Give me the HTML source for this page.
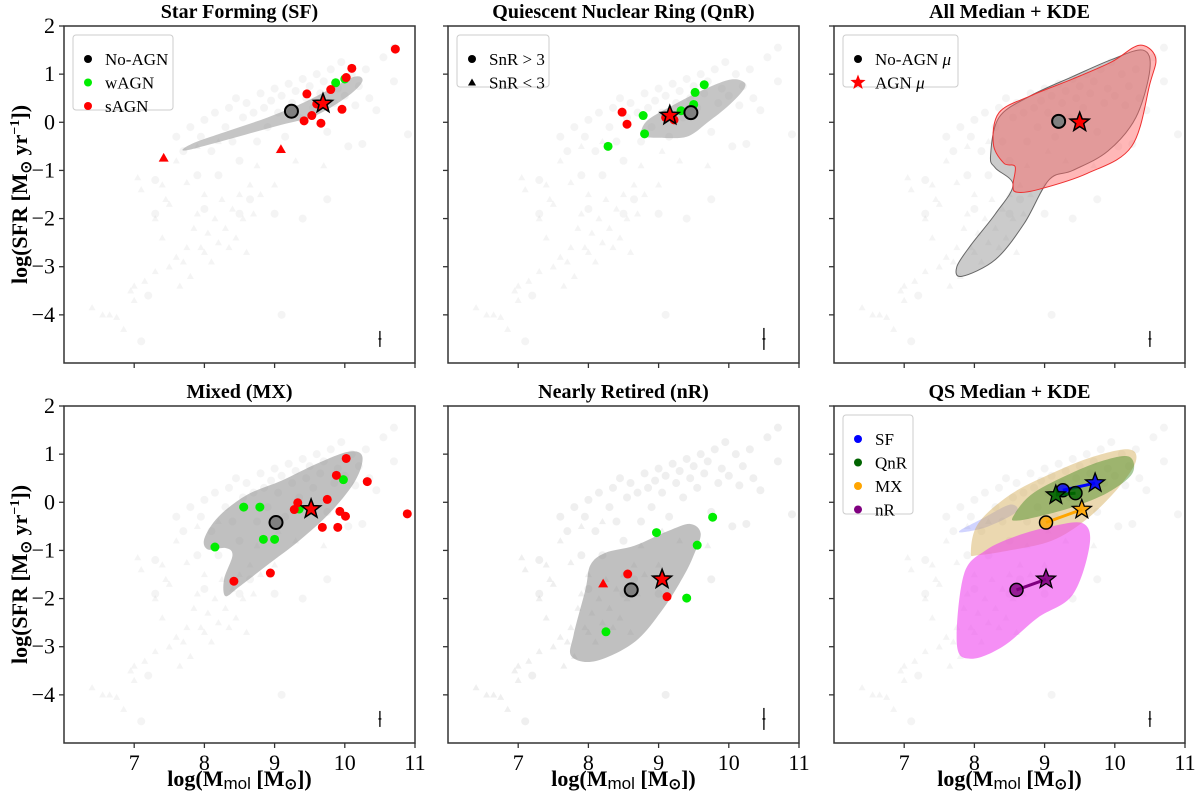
<!DOCTYPE html>
<html><head><meta charset="utf-8"><style>
html,body{margin:0;padding:0;background:#fff;}
svg{display:block;font-family:"Liberation Serif",serif;}
svg text{font-family:"Liberation Serif",serif;}
</style></head><body>
<svg id="fig" width="1200" height="800" viewBox="0 0 1200 800" xmlns="http://www.w3.org/2000/svg" font-family="Liberation Serif, serif"></svg>
<script>
// ---------- data ----------
const bgX=[6.4,6.55,6.65,6.75,6.85,6.95,7.0,7.0,7.05,7.1,7.15,7.3,7.3,7.4,7.45,7.5,7.5,7.6,7.65,7.7,7.75,7.8,7.85,7.9,7.95,8.0,8.0,8.05,8.1,8.15,8.2,8.25,8.3,8.35,8.4,8.45,8.5,8.55,8.6,8.65,8.7,8.75,8.8,9.0,9.05,9.3,7.6,7.9,8.2,9.7,7.4,7.75,
7.1,7.2,7.3,7.3,7.6,7.7,7.8,7.9,7.95,8.0,8.1,8.15,8.2,8.3,8.35,8.4,8.45,8.5,8.55,8.6,8.65,8.7,8.75,8.8,8.85,8.9,8.95,9.0,9.0,9.05,9.1,9.15,9.2,9.25,9.3,9.35,9.4,9.45,9.5,9.55,9.6,9.65,9.7,9.75,9.8,9.85,9.9,9.95,10.0,10.05,10.1,10.15,10.2,10.3,10.35,10.45,10.7,10.7,10.55,10.9,9.1,8.5,9.4,9.75,10.25,8.0];
const bgY=[-3.85,-4.0,-4.0,-4.05,-4.3,-3.5,-3.4,-3.7,-1.15,-1.4,-3.3,-3.1,-2.0,-2.4,-1.6,-1.7,-3.0,-2.8,-3.4,-2.9,-2.6,-3.2,-2.2,-1.9,-2.6,-2.7,-1.5,-2.3,-2.9,-2.0,-2.5,-1.6,-2.2,-2.6,-1.8,-2.4,-1.5,-2.0,-2.7,-1.3,-1.9,-0.9,-1.5,-1.3,-0.6,-0.8,-0.8,-0.5,-0.4,-0.9,-1.3,-1.25,
-4.55,-3.6,-1.2,-1.9,-0.3,-0.6,-0.1,-1.1,-0.3,0.05,-0.6,0.2,-1.1,-0.1,0.3,-0.4,0.5,-0.8,0.1,0.4,-1.6,0.2,-0.4,0.6,0.3,-0.1,0.45,0.7,-1.9,0.2,0.55,-0.3,0.8,0.4,0.65,0.1,0.9,0.5,0.75,0.3,1.0,0.6,0.85,-0.2,1.1,0.4,0.7,1.25,0.55,-0.5,1.0,0.35,0.75,1.1,0.5,0.25,1.55,0.85,1.35,-0.25,-4.0,-1.9,-2.0,-1.6,-0.45,-1.8];
const nTri=52;
const xTicks=[7,8,9,10,11];
const yTicks=[2,1,0,-1,-2,-3,-4];
// SF panel
const sfGreenX=[10.0,9.87], sfGreenY=[0.9,0.82];
const sfRedX=[10.72,10.1,10.02,9.8,9.46,9.96,9.53,9.42,9.66,9.6], sfRedY=[1.52,1.12,0.93,0.68,0.59,0.27,0.14,0.03,-0.02,0.38];
const sfTriX=[7.42,9.09], sfTriY=[-0.74,-0.56];
const sfNo=[9.24,0.23], sfAgn=[9.69,0.39];
const sfKdeX=[7.7,7.9,8.4,8.9,9.4,9.8,10.15,10.25,10.05,9.6,9.1,8.6,8.1,7.75], sfKdeY=[-0.55,-0.4,-0.15,0.1,0.4,0.7,0.95,0.85,0.55,0.15,-0.05,-0.25,-0.45,-0.58];
// QnR panel
const qGreenX=[9.65,9.52,9.5,9.32,8.78,8.8,8.28], qGreenY=[0.78,0.62,0.37,0.24,0.14,-0.24,-0.5];
const qRedX=[8.48,8.55,9.1,9.22], qRedY=[0.21,-0.04,0.1,0.05];
const qNo=[9.46,0.2], qAgn=[9.16,0.14];
const qKdeX=[8.75,8.85,9.2,9.6,10.0,10.2,10.22,10.0,9.7,9.4,9.0,8.8], qKdeY=[-0.2,0.05,0.35,0.65,0.88,0.85,0.7,0.35,0.0,-0.3,-0.32,-0.3];
// All panel
const allNo=[9.2,0.02], allAgn=[9.5,0.0];
const allGrayX=[10.4,10.5,10.3,9.9,9.4,9.06,8.71,8.3,7.82,7.75,7.95,8.3,8.55,8.3,8.23,8.35,8.8,9.4,9.95], allGrayY=[1.5,1.1,0.1,-0.6,-1.0,-1.2,-2.1,-2.85,-3.2,-3.0,-2.55,-1.9,-1.3,-0.95,-0.7,0.1,0.55,0.95,1.3];
const allRedX=[10.35,10.58,10.5,10.24,9.61,8.9,8.6,8.55,8.58,8.42,8.27,8.35,8.8,9.4,9.95], allRedY=[1.6,1.35,0.8,-0.5,-1.06,-1.4,-1.45,-1.3,-0.92,-0.85,-0.45,0.2,0.55,0.9,1.25];
// MX panel
const mGreenX=[8.15,8.56,8.79,8.84,9.0,9.35,9.98], mGreenY=[-0.93,-0.1,-0.1,-0.77,-0.77,-0.14,0.47];
const mRedX=[10.02,9.88,10.32,9.75,9.33,9.28,9.93,10.01,9.68,9.9,10.89,8.94,8.42], mRedY=[0.91,0.56,0.43,0.06,-0.01,-0.15,-0.19,-0.29,-0.52,-0.52,-0.24,-1.47,-1.64];
const mNo=[9.02,-0.42], mAgn=[9.52,-0.14];
const mKdeX=[8.0,8.2,8.6,9.1,9.6,10.05,10.25,10.15,9.8,9.35,8.9,8.5,8.3,8.28,8.4,8.3,8.05], mKdeY=[-0.75,-0.3,0.15,0.45,0.8,1.05,0.95,0.45,-0.2,-0.8,-1.3,-1.75,-1.95,-1.6,-1.1,-0.95,-0.98];
// nR panel
const nGreenX=[9.77,8.97,9.55,9.4,8.25], nGreenY=[-0.31,-0.63,-0.89,-1.99,-2.69];
const nRedX=[8.56,9.12], nRedY=[-1.49,-1.96];
const nTriX=[8.21], nTriY=[-1.69];
const nNo=[8.61,-1.82], nAgn=[9.05,-1.6];
const nKdeX=[9.45,9.6,9.5,9.35,9.07,8.66,8.1,7.76,7.79,7.96,8.03,8.24,8.66,9.13], nKdeY=[-0.45,-0.65,-1.1,-1.55,-2.2,-2.9,-3.3,-3.2,-2.75,-1.8,-1.3,-1.05,-0.9,-0.6];
// QS panel
const qsLabels=['SF','QnR','MX','nR'];
const qsColors=['#0000ff','#006400','#ffa500','#800080'];
const qsNoX=[9.26,9.44,9.02,8.6], qsNoY=[0.25,0.19,-0.42,-1.82];
const qsAgnX=[9.72,9.16,9.53,9.02], qsAgnY=[0.4,0.15,-0.15,-1.6];
const qsMagX=[9.55,9.64,9.4,8.9,8.4,7.95,7.75,7.85,8.16,8.6,9.1], qsMagY=[-0.44,-0.9,-1.92,-2.4,-3.0,-3.25,-2.95,-1.5,-1.0,-0.7,-0.5];
const qsTanX=[7.95,8.05,8.5,9.1,9.7,10.2,10.3,10.05,9.6,9.1,8.5,8.05], qsTanY=[-1.05,-0.45,0.15,0.6,0.95,1.1,0.85,0.3,-0.35,-0.8,-1.0,-1.1];
const qsGreenX=[8.55,8.8,9.3,9.8,10.2,10.25,9.9,9.4,8.9,8.6], qsGreenY=[-0.3,0.15,0.55,0.85,0.95,0.6,0.2,-0.1,-0.3,-0.38];
const qsBlueX=[7.8,8.1,8.5,8.6,8.2,7.85], qsBlueY=[-0.58,-0.35,-0.05,-0.2,-0.5,-0.62];

// ---------- drawing ----------
const NS='http://www.w3.org/2000/svg', svg=document.getElementById('fig');
const W=351,H=337, XMIN=6,XMAX=11,YMIN=-5,YMAX=2;
const FONT='Liberation Serif, serif';
function mk(tag,attrs,parent){const e=document.createElementNS(NS,tag);for(const k in attrs)e.setAttribute(k,attrs[k]);if(tag==='text'&&!attrs['font-family'])e.setAttribute('font-family',FONT);(parent||svg).appendChild(e);return e;}
function sx(p,x){return p.x+(x-XMIN)/(XMAX-XMIN)*W;}
function sy(p,y){return p.y+(YMAX-y)/(YMAX-YMIN)*H;}
function smooth(p,xs,ys){const pts=xs.map((x,i)=>[sx(p,x),sy(p,ys[i])]);const n=pts.length;let d='M'+pts[0][0]+','+pts[0][1];
 for(let i=0;i<n;i++){const p0=pts[(i-1+n)%n],p1=pts[i],p2=pts[(i+1)%n],p3=pts[(i+2)%n];
 d+=' C'+(p1[0]+(p2[0]-p0[0])/6)+','+(p1[1]+(p2[1]-p0[1])/6)+' '+(p2[0]-(p3[0]-p1[0])/6)+','+(p2[1]-(p3[1]-p1[1])/6)+' '+p2[0]+','+p2[1];}return d+'Z';}
function starPath(cx,cy,R){const r=R*0.42;let d='';for(let i=0;i<10;i++){const a=-Math.PI/2+i*Math.PI/5,rr=i%2?r:R;d+=(i?'L':'M')+(cx+rr*Math.cos(a)).toFixed(1)+','+(cy+rr*Math.sin(a)).toFixed(1);}return d+'Z';}
function triPath(cx,cy,s){return 'M'+cx+','+(cy-s)+'L'+(cx+s)+','+(cy+s*0.75)+'L'+(cx-s)+','+(cy+s*0.75)+'Z';}

const panels=[
 {x:64,y:26,title:'Star Forming (SF)',row:0,col:0},
 {x:448,y:26,title:'Quiescent Nuclear Ring (QnR)',row:0,col:1},
 {x:834,y:26,title:'All Median + KDE',row:0,col:2},
 {x:64,y:406,title:'Mixed (MX)',row:1,col:0},
 {x:448,y:406,title:'Nearly Retired (nR)',row:1,col:1},
 {x:834,y:406,title:'QS Median + KDE',row:1,col:2}];
const names=['sf','qnr','all','mx','nr','qs'];

panels.forEach((p,pi)=>{
 const g=mk('g',{});
 
 
 const t=mk('text',{x:p.x+W/2,y:p.y-8,'text-anchor':'middle','font-size':20,'font-weight':'bold'},g);t.textContent=p.title;
 
 
 const bg=mk('g',{fill:'#9a9a9a','fill-opacity':pi===4?0.16:0.11},g);
 
 
 bgX.forEach((x,i)=>{
  if(i<nTri) mk('path',{d:triPath(sx(p,x),sy(p,bgY[i]),3.5)},bg);
  else mk('circle',{cx:sx(p,x),cy:sy(p,bgY[i]),r:4},bg);
 });
 const eb=mk('g',{stroke:'#000','stroke-width':1.3},g);
 
 
 const ex=sx(p,10.5),ey=sy(p,-4.5),el=(pi===1||pi===4)?11:8;
 mk('line',{x1:ex,x2:ex,y1:ey-el,y2:ey+el},eb);mk('line',{x1:ex-1.5,x2:ex+1.5,y1:ey,y2:ey},eb);
 p.g=g;
});

function kde(p,xs,ys,fill,op,stroke,name){const e=mk('path',{d:smooth(p,xs,ys),fill:fill,'fill-opacity':op,stroke:stroke||'none','stroke-width':1},p.g);
 
 }
function dots(p,xs,ys,color,name){xs.forEach((x,i)=>{const c=mk('circle',{cx:sx(p,x),cy:sy(p,ys[i]),r:4.5,fill:color},p.g);
 
 });}
function tris(p,xs,ys,color,name){xs.forEach((x,i)=>{const c=mk('path',{d:triPath(sx(p,x),sy(p,ys[i]),5),fill:color},p.g);
 
 });}
function med(p,pt,fill,name){const c=mk('circle',{cx:sx(p,pt[0]),cy:sy(p,pt[1]),r:6.5,fill:fill,stroke:'#000','stroke-width':2},p.g);
 
 }
function star(p,pt,fill,name){const c=mk('path',{d:starPath(sx(p,pt[0]),sy(p,pt[1]),10),fill:fill,stroke:'#000','stroke-width':1.5},p.g);
 
 }

const [P1,P2,P3,P4,P5,P6]=panels;
kde(P1,sfKdeX,sfKdeY,'#8c8c8c',0.5,null,'sf-kde');
dots(P1,sfGreenX,sfGreenY,'#00ee00','wagn-point');
dots(P1,sfRedX,sfRedY,'#ff0000','sagn-point');
tris(P1,sfTriX,sfTriY,'#ff0000','sagn-low-snr');
med(P1,sfNo,'#808080','no-agn-median');star(P1,sfAgn,'#ff0000','agn-median-star');
kde(P2,qKdeX,qKdeY,'#8c8c8c',0.5,null,'qnr-kde');
dots(P2,qGreenX,qGreenY,'#00ee00','wagn-point');
dots(P2,qRedX,qRedY,'#ff0000','sagn-point');
med(P2,qNo,'#808080','no-agn-median');star(P2,qAgn,'#ff0000','agn-median-star');
kde(P3,allGrayX,allGrayY,'#8c8c8c',0.45,'#666','no-agn-kde');
kde(P3,allRedX,allRedY,'#ff6060',0.45,'#ee3030','agn-kde');
med(P3,allNo,'#808080','no-agn-median');star(P3,allAgn,'#ff0000','agn-median-star');
kde(P4,mKdeX,mKdeY,'#8c8c8c',0.55,null,'mx-kde');
dots(P4,mGreenX,mGreenY,'#00ee00','wagn-point');
dots(P4,mRedX,mRedY,'#ff0000','sagn-point');
med(P4,mNo,'#808080','no-agn-median');star(P4,mAgn,'#ff0000','agn-median-star');
kde(P5,nKdeX,nKdeY,'#8c8c8c',0.55,null,'nr-kde');
dots(P5,nGreenX,nGreenY,'#00ee00','wagn-point');
dots(P5,nRedX,nRedY,'#ff0000','sagn-point');
tris(P5,nTriX,nTriY,'#ff0000','sagn-low-snr');
med(P5,nNo,'#808080','no-agn-median');star(P5,nAgn,'#ff0000','agn-median-star');
kde(P6,qsBlueX,qsBlueY,'#6670ff',0.3,null,'sf-kde');
kde(P6,qsTanX,qsTanY,'#d2a850',0.45,null,'mx-kde');
kde(P6,qsMagX,qsMagY,'#ee44ee',0.6,null,'nr-kde');
kde(P6,qsGreenX,qsGreenY,'#3f8a20',0.45,null,'qnr-kde');
qsLabels.forEach((lab,i)=>{
 const a=[sx(P6,qsNoX[i]),sy(P6,qsNoY[i])],b=[sx(P6,qsAgnX[i]),sy(P6,qsAgnY[i])];
 const l=mk('line',{x1:a[0],y1:a[1],x2:b[0],y2:b[1],stroke:qsColors[i],'stroke-width':3},P6.g);
 
 
 const c=mk('circle',{cx:a[0],cy:a[1],r:6.5,fill:qsColors[i],stroke:'#000','stroke-width':1.5,'fill-opacity':0.8},P6.g);
 
 
 const s=mk('path',{d:starPath(b[0],b[1],10),fill:qsColors[i],stroke:'#000','stroke-width':1.3,'fill-opacity':0.9},P6.g);
 
 
});

panels.forEach((p,pi)=>{
 const ax=mk('g',{},p.g);
 
 
 mk('rect',{x:p.x,y:p.y,width:W,height:H,fill:'none',stroke:'#333','stroke-width':1.5},ax);
 xTicks.forEach(v=>{const X=sx(p,v);mk('line',{x1:X,x2:X,y1:p.y+H,y2:p.y+H+5,stroke:'#333','stroke-width':1.3},ax);
  if(p.row===1){const t=mk('text',{x:X,y:p.y+H+27,'text-anchor':'middle','font-size':22},ax);t.textContent=v;
  
  }});
 yTicks.forEach(v=>{const Y=sy(p,v);mk('line',{x1:p.x-5,x2:p.x,y1:Y,y2:Y,stroke:'#333','stroke-width':1.3},ax);
  if(p.col===0){const t=mk('text',{x:p.x-9,y:Y+7,'text-anchor':'end','font-size':22},ax);t.textContent=(v<0?'\u2212'+(-v):v);
  
  }});
 if(p.col===0){const t=mk('text',{transform:'translate(27,'+(p.y+H/2)+') rotate(-90)','text-anchor':'middle','font-size':22,'font-weight':'bold'},ax);
  t.innerHTML='log(SFR [M<tspan font-size="15" dy="4">\u2299</tspan><tspan dy="-4"> yr</tspan><tspan font-size="14" dy="-8">\u22121</tspan><tspan dy="8">])</tspan>';
  
  }
 if(p.row===1){const t=mk('text',{x:p.x+W/2,y:786,'text-anchor':'middle','font-size':22,'font-weight':'bold'},ax);
  t.innerHTML='log(M<tspan font-family="Liberation Sans,sans-serif" font-weight="normal" font-size="17" dy="3">mol</tspan><tspan dy="-3"> [M</tspan><tspan font-size="15" dy="3">\u2299</tspan><tspan dy="-3">])</tspan>';
  
  }
});

function legend(p,items,w,h){
 const g=mk('g',{},p.g);
 
 
 mk('rect',{x:p.x+9,y:p.y+9,width:w,height:h,rx:3,fill:'#fff','fill-opacity':0.8,stroke:'#ccc'},g);
 items.forEach((it,i)=>{const cy=p.y+33+i*23.5,cx=p.x+24;
  if(it.m==='c')mk('circle',{cx:cx,cy:cy,r:4,fill:it.c},g);
  else if(it.m==='t')mk('path',{d:triPath(cx,cy,4),fill:it.c},g);
  else mk('path',{d:starPath(cx,cy,8),fill:it.c},g);
  const t=mk('text',{x:p.x+41,y:cy+6,'font-size':17},g);t.innerHTML=it.l;
  
  });
}
legend(P1,[{m:'c',c:'#000',l:'No-AGN'},{m:'c',c:'#00ee00',l:'wAGN'},{m:'c',c:'#ff0000',l:'sAGN'}],100,75);
legend(P2,[{m:'c',c:'#000',l:'SnR &gt; 3'},{m:'t',c:'#000',l:'SnR &lt; 3'}],92,52);
legend(P3,[{m:'c',c:'#000',l:'No-AGN <tspan font-style="italic">\u03bc</tspan>'},{m:'s',c:'#ff0000',l:'AGN <tspan font-style="italic">\u03bc</tspan>'}],115,52);
legend(P6,qsLabels.map((l,i)=>({m:'c',c:qsColors[i],l:l})),70,99);
</script>
</body></html>
